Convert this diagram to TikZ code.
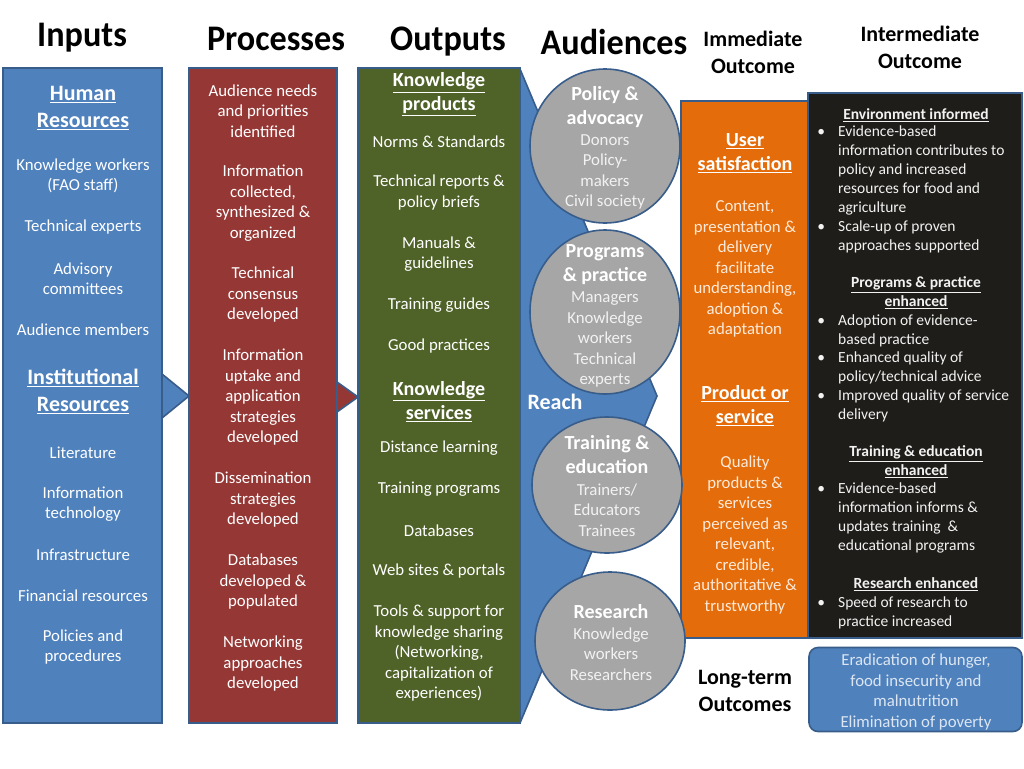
\documentclass[tikz,border=0pt]{standalone}
\usepackage{fontspec}
\setmainfont{Carlito}
\usetikzlibrary{shapes.geometric}
\definecolor{inblue}{HTML}{4F81BD}
\definecolor{edgeblue}{HTML}{385D8A}
\definecolor{procred}{HTML}{953735}
\definecolor{outgreen}{HTML}{4F6228}
\definecolor{orng}{HTML}{E46C0A}
\definecolor{darkbox}{HTML}{1E1D19}
\definecolor{audgray}{HTML}{A6A6A6}
\definecolor{circtext}{HTML}{F2F2F2}
\definecolor{orngtext}{HTML}{FDEADA}
\definecolor{lttext}{HTML}{DCE6F2}

\begin{document}
\begin{tikzpicture}[x=1pt, y=-1pt]
	\tikzset{col/.style={rectangle, draw=edgeblue, line width=1.6pt, inner sep=0pt}};
	\tikzset{aud/.style={ellipse, draw=edgeblue, line width=1.6pt, fill=audgray, inner sep=0pt}};
	\tikzset{hd/.style={font=\fontsize{36}{40}\selectfont\bfseries, xscale=0.95, transform shape, inner sep=0pt}};
	\tikzset{hdb/.style={font=\fontsize{22}{27}\selectfont\bfseries, align=center, inner sep=0pt}};
	\tikzset{sub/.style={font=\fontsize{22}{27}\selectfont\bfseries, text=white, align=center, inner sep=0pt, yshift=-1.5pt}};
	\tikzset{subs/.style={font=\fontsize{20}{24}\selectfont\bfseries, text=white, align=center, inner sep=0pt, yshift=-1.5pt}};
	\tikzset{txt/.style={font=\fontsize{16.8}{20.5}\selectfont, text=white, align=center, inner sep=0pt, yshift=-1.5pt}};
	\tikzset{ctxt/.style={txt, text=circtext}};
	\tikzset{otxt/.style={txt, text=orngtext}};
	\tikzset{blhd/.style={font=\fontsize{15.5}{18.9}\selectfont\bfseries, text=circtext, align=center, inner sep=0pt, yshift=-1pt}};
	\tikzset{itm/.style={font=\fontsize{15.5}{18.9}\selectfont, text=circtext, align=left, anchor=west, inner sep=0pt, yshift=-1pt}};

	\fill[white] (0,0) rectangle (1024,768);
	\useasboundingbox (0,0) rectangle (1024,768);

	\draw[fill=inblue, draw=edgeblue, line width=1.6pt] (500,69) -- (520,69) -- (657,396) -- (520,723) -- (500,723) -- cycle;

	\node[col, fill=inblue, minimum width=159, minimum height=655] (inp) at (82.5,395.5) {};
	\node[col, fill=procred, minimum width=148, minimum height=655] (proc) at (263,395.5) {};
	\node[col, fill=outgreen, minimum width=162, minimum height=655] (outp) at (439,395.5) {};
	\node[col, fill=orng, minimum width=127, minimum height=537] (imm) at (744.5,369.5) {};
	\node[col, fill=darkbox, minimum width=214, minimum height=545] (inter) at (915,365.5) {};
	\node[col, fill=inblue, rounded corners=9pt, minimum width=213, minimum height=84] (lt) at (915.5,689.5) {};

	\draw[fill=inblue, draw=edgeblue, line width=1.6pt] (162,374) -- (189,396) -- (162,418) -- cycle;
	\draw[fill=procred, draw=edgeblue, line width=1.6pt] (337,382) -- (358,397) -- (337,412) -- cycle;

	\node[aud, minimum width=150, minimum height=154] (pol) at (605,146) {};
	\node[aud, minimum width=150, minimum height=164] (prog) at (605,312) {};
	\node[aud, minimum width=150, minimum height=136] (train) at (607,485) {};
	\node[aud, minimum width=150, minimum height=138] (res) at (610,641) {};

	\node[hd] (h1) at (82,38) {Inputs};
	\node[hd] (h2) at (276,39) {Processes};
	\node[hd] (h3) at (448,42) {Outputs};
	\node[hd] (h4) at (614,42) {Audiences};
	\node[hdb] (h5) at (753,52.5) {Immediate\\Outcome};
	\node[hdb] (h6) at (920,47.5) {Intermediate\\Outcome};
	\node[hdb] (h7) at (745,690.5) {Long-term\\Outcomes};

	\node[sub] (i1) at (83,106.5) {\underline{Human}\\\underline{Resources}};
	\node[txt] (i2) at (83,174.5) {Knowledge workers\\(FAO staff)};
	\node[txt] (i3) at (83,226) {Technical experts};
	\node[txt] (i4) at (83,277) {Advisory\\committees};
	\node[txt] (i5) at (83,328) {Audience members};
	\node[sub] (i6) at (83,390) {\underline{Institutional}\\\underline{Resources}};
	\node[txt] (i7) at (83,451) {Literature};
	\node[txt] (i8) at (83,502.5) {Information\\technology};
	\node[txt] (i9) at (83,553) {Infrastructure};
	\node[txt] (i10) at (83,594) {Financial resources};
	\node[txt] (i11) at (83,645.5) {Policies and\\procedures};

	\node[txt] (p1) at (263,109.5) {Audience needs\\and priorities\\identified};
	\node[txt] (p2) at (263,201.5) {Information\\collected,\\synthesized \&\\organized};
	\node[txt] (p3) at (263,293.5) {Technical\\consensus\\developed};
	\node[txt] (p4) at (263,396) {Information\\uptake and\\application\\strategies\\developed};
	\node[txt] (p5) at (263,498.5) {Dissemination\\strategies\\developed};
	\node[txt] (p6) at (263,580.5) {Databases\\developed \&\\populated};
	\node[txt] (p7) at (263,662.5) {Networking\\approaches\\developed};

	\node[subs] (o1) at (439,93) {\underline{Knowledge}\\\underline{products}};
	\node[txt] (o2) at (439,140) {Norms \& Standards};
	\node[txt] (o3) at (439,191) {Technical reports \&\\policy briefs};
	\node[txt] (o4) at (439,252.5) {Manuals \&\\guidelines};
	\node[txt] (o5) at (439,304) {Training guides};
	\node[txt] (o6) at (439,345) {Good practices};
	\node[subs] (o7) at (439,400) {\underline{Knowledge}\\\underline{services}};
	\node[txt] (o8) at (439,447) {Distance learning};
	\node[txt] (o9) at (439,488) {Training programs};
	\node[txt] (o10) at (439,529) {Databases};
	\node[txt] (o11) at (439,570) {Web sites \& portals};
	\node[txt] (o12) at (439,652) {Tools \& support for\\knowledge sharing\\(Networking,\\capitalization of\\experiences)};

	\node[sub] (r1) at (555,400) {Reach};

	\node[subs] (a1) at (605,106) {Policy \&\\advocacy};
	\node[ctxt] (a2) at (605,170.5) {Donors\\Policy-\\makers\\Civil society};
	\node[subs] (a3) at (605,263) {Programs\\\& practice};
	\node[ctxt] (a4) at (605,338) {Managers\\Knowledge\\workers\\Technical\\experts};
	\node[subs] (a5) at (607,453) {Training \&\\education};
	\node[ctxt] (a6) at (607,508.5) {Trainers/\\Educators\\Trainees};
	\node[subs] (a7) at (611,610) {Research};
	\node[ctxt] (a8) at (611,652.5) {Knowledge\\workers\\Researchers};

	\node[subs] (u1) at (745,151.5) {\underline{User}\\\underline{satisfaction}};
	\node[otxt] (u2) at (745,267.5) {Content,\\presentation \&\\delivery\\facilitate\\understanding,\\adoption \&\\adaptation};
	\node[subs] (u3) at (745,404) {\underline{Product or}\\\underline{service}};
	\node[otxt] (u4) at (745,533.5) {Quality\\products \&\\services\\perceived as\\relevant,\\credible,\\authoritative \&\\trustworthy};

	\node[blhd] (e1) at (916,114) {\underline{Environment informed}};
	\node[itm] (e2) at (838,169.5) {\llap{\textbullet\hspace{13pt}}Evidence-based\\information contributes to\\policy and increased\\resources for food and\\agriculture};
	\node[itm] (e3) at (838,235.5) {\llap{\textbullet\hspace{13pt}}Scale-up of proven\\approaches supported};
	\node[blhd] (e4) at (916,292) {\underline{Programs \& practice}\\\underline{enhanced}};
	\node[itm] (e5) at (838,329.5) {\llap{\textbullet\hspace{13pt}}Adoption of evidence-\\based practice};
	\node[itm] (e6) at (838,367) {\llap{\textbullet\hspace{13pt}}Enhanced quality of\\policy/technical advice};
	\node[itm] (e7) at (838,404.5) {\llap{\textbullet\hspace{13pt}}Improved quality of service\\delivery};
	\node[blhd] (e8) at (916,461) {\underline{Training \& education}\\\underline{enhanced}};
	\node[itm] (e9) at (838,517) {\llap{\textbullet\hspace{13pt}}Evidence-based\\information informs \&\\updates training~ \&\\educational programs};
	\node[blhd] (e10) at (916,583) {\underline{Research enhanced}};
	\node[itm] (e11) at (838,611.5) {\llap{\textbullet\hspace{13pt}}Speed of research to\\practice increased};

	\node[txt, text=lttext] (l1) at (916,690.5) {Eradication of hunger,\\food insecurity and\\malnutrition\\Elimination of poverty};

\end{tikzpicture}
\end{document}
